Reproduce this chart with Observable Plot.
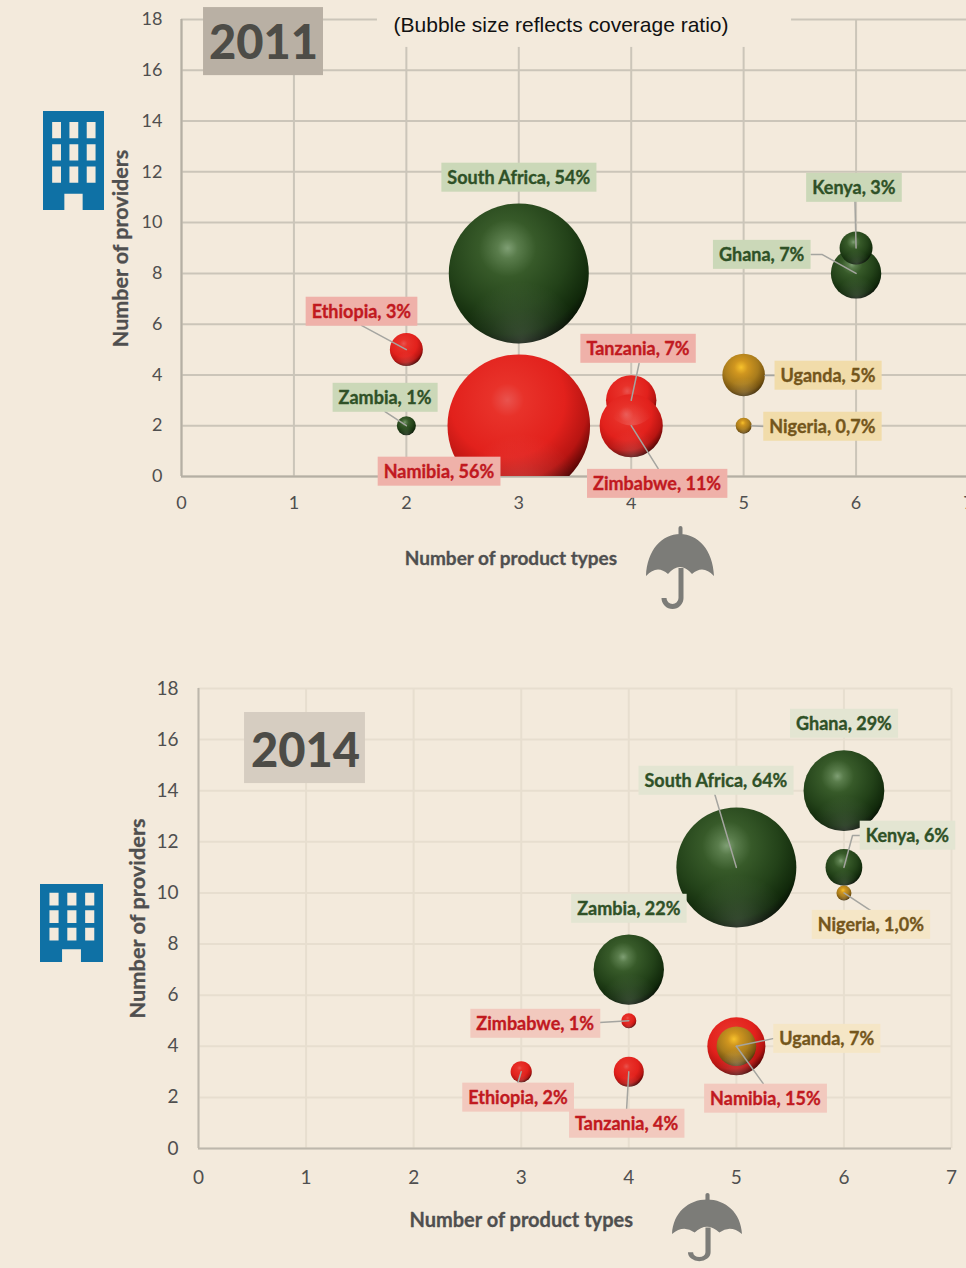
<!DOCTYPE html>
<html>
<head>
<meta charset="utf-8">
<script src="https://cdn.jsdelivr.net/npm/d3@7"></script>
<script src="https://cdn.jsdelivr.net/npm/@observablehq/plot@0.6"></script>
<style>
  html, body { margin: 0; padding: 0; background: #f3eadc; }
  body { position: relative; width: 966px; height: 1268px; overflow: hidden; font-family: Lato, sans-serif; }
  .layer { position: absolute; left: 0; }
  .icon { position: absolute; }
</style>
</head>
<body>
<svg width="0" height="0" style="position:absolute">
  <defs>
    <radialGradient id="sphere-green" cx="0.42" cy="0.32" r="0.73">
      <stop offset="0" stop-color="#7f9f74"/><stop offset="0.1" stop-color="#5a7d4c"/>
      <stop offset="0.28" stop-color="#375a29"/><stop offset="0.6" stop-color="#234219"/>
      <stop offset="0.84" stop-color="#11290b"/><stop offset="1" stop-color="#010401"/>
    </radialGradient>
    <radialGradient id="sphere-red" cx="0.42" cy="0.32" r="0.73">
      <stop offset="0" stop-color="#e9534e"/><stop offset="0.16" stop-color="#e8322a"/>
      <stop offset="0.55" stop-color="#e2211c"/><stop offset="0.78" stop-color="#b81512"/>
      <stop offset="0.92" stop-color="#5e0605"/><stop offset="1" stop-color="#1c0000"/>
    </radialGradient>
    <radialGradient id="sphere-gold" cx="0.44" cy="0.32" r="0.73">
      <stop offset="0" stop-color="#f7c22c"/><stop offset="0.22" stop-color="#d0961f"/>
      <stop offset="0.55" stop-color="#a97c1c"/><stop offset="0.8" stop-color="#775410"/>
      <stop offset="1" stop-color="#2a1c02"/>
    </radialGradient>
    <radialGradient id="sphere-rim" cx="0.52" cy="0.98" r="0.42">
      <stop offset="0" stop-color="#ffffff" stop-opacity="0.17"/>
      <stop offset="0.55" stop-color="#ffffff" stop-opacity="0.06"/>
      <stop offset="1" stop-color="#ffffff" stop-opacity="0"/>
    </radialGradient>
  </defs>
</svg>
<svg class="icon" style="left:43px;top:111px" width="61" height="99" viewBox="0 0 60 98" preserveAspectRatio="none"><path fill="#0f71a5" fill-rule="evenodd" d="M0 0H60V98H39V82H21V98H0ZM9 11v16h8.7V11ZM26 11v16h8.7V11ZM43 11v16h8.7V11ZM9 33v16h8.7V33ZM26 33v16h8.7V33ZM43 33v16h8.7V33ZM9 55v16h8.7V55ZM26 55v16h8.7V55ZM43 55v16h8.7V55Z"/></svg>
<svg class="icon" style="left:40px;top:884px" width="63" height="78" viewBox="0 0 60 98" preserveAspectRatio="none"><path fill="#0f71a5" fill-rule="evenodd" d="M0 0H60V98H39V82H21V98H0ZM9 11v16h8.7V11ZM26 11v16h8.7V11ZM43 11v16h8.7V11ZM9 33v16h8.7V33ZM26 33v16h8.7V33ZM43 33v16h8.7V33ZM9 55v16h8.7V55ZM26 55v16h8.7V55ZM43 55v16h8.7V55Z"/></svg>
<svg class="icon" style="left:646px;top:526px" width="68" height="84" viewBox="0 0 68 84"><g fill="#7c7c78"><rect x="32.500" y="0" width="4" height="10" rx="2"/><path d="M0 50C1 24 16 8 34 8C52 8 67 24 68 50Q57 38 46 48Q40 41 34 41Q28 41 22 48Q11 38 0 50Z"/></g><path d="M35 42V72a8.500 8.500 0 0 1 -17 0" fill="none" stroke="#7c7c78" stroke-width="5"/></svg>
<svg class="icon" style="left:672px;top:1193px" width="70" height="69" viewBox="0 0 68 84" preserveAspectRatio="none"><g fill="#7c7c78"><rect x="32.500" y="0" width="4" height="10" rx="2"/><path d="M0 50C1 24 16 8 34 8C52 8 67 24 68 50Q57 38 46 48Q40 41 34 41Q28 41 22 48Q11 38 0 50Z"/></g><path d="M35 42V72a8.500 8.500 0 0 1 -17 0" fill="none" stroke="#7c7c78" stroke-width="5"/></svg>
<script>
// ---- 2011 ----
const names2011  = ["South Africa","Namibia","Ethiopia","Zambia","Tanzania","Zimbabwe","Uganda","Nigeria","Ghana","Kenya"];
const types2011  = [3,3,2,2,4,4,5,5,6,6];
const provs2011  = [8,2,5,2,3,2,4,2,8,9];
const ratio2011  = [54,56,3,1,7,11,5,0.7,7,3];
const ratioText2011 = ["54%","56%","3%","1%","7%","11%","5%","0,7%","7%","3%"];
const group2011  = ["green","red","red","green","red","red","gold","gold","green","green"];
const labelX2011 = [3.00,2.29,1.60,1.81,4.06,4.23,5.75,5.70,5.16,5.98];
const labelY2011 = [11.78,0.20,6.50,3.11,5.04,-0.28,3.98,1.97,8.74,11.38];
const leaders2011 = [
  [[5.99,10.83],[6,9]],
  [[5.60,8.74],[5.70,8.74],[6,8]],
  [[1.60,5.95],[2,5]],
  [[4.07,4.45],[4,3]],
  [[5.30,3.98],[5.19,3.98]],
  [[5.19,1.97],[5.07,2]],
  [[1.81,2.56],[2,2]],
  [[4.24,0.31],[4,2]]
];
// ---- 2014 ----
const names2014  = ["Ghana","South Africa","Kenya","Nigeria","Zambia","Zimbabwe","Namibia","Uganda","Ethiopia","Tanzania"];
const types2014  = [6,5,6,6,4,4,5,5,3,4];
const provs2014  = [14,11,11,10,7,5,4,4,3,3];
const ratio2014  = [29,64,6,1,22,1,15,7,2,4];
const ratioText2014 = ["29%","64%","6%","1,0%","22%","1%","15%","7%","2%","4%"];
const group2014  = ["green","green","green","gold","green","red","red","gold","red","red"];
const labelX2014 = [6.00,4.81,6.59,6.25,4.00,3.13,5.27,5.84,2.97,3.98];
const labelY2014 = [16.63,14.40,12.25,8.76,9.39,4.89,1.96,4.30,2.00,0.98];
const leaders2014 = [
  [[4.80,13.85],[5,11]],
  [[6.16,12.25],[6.08,12.25],[6,11]],
  [[6.25,9.31],[6,10]],
  [[3.73,4.93],[4,5]],
  [[5.34,4.30],[5,4]],
  [[5.25,2.54],[5,4]],
  [[2.97,2.58],[3,3]],
  [[3.98,1.56],[4,3]]
];
const xTicks = [0,1,2,3,4,5,6,7];
const yTicks = [0,2,4,6,8,10,12,14,16,18];
const xTitle = "Number of product types";
const yTitle = "Number of providers";
const note = "(Bubble size reflects coverage ratio)";

const textColor = {green:"#2f5127", red:"#c1191f", gold:"#74561c"};

function rows(names, types, provs, ratio, ratioText, group, lx, ly) {
  return names.map((n,i)=>({name:n, x:types[i], y:provs[i], r:ratio[i], label:`${n}, ${ratioText[i]}`, group:group[i], lx:lx[i], ly:ly[i]}));
}

function chart(o) {
  const leaderPts = o.leaders.flatMap((p,k)=>p.map(([x,y])=>({x,y,k})));
  const marks = [
    Plot.ruleY(yTicks, {stroke:o.grid, strokeWidth:2}),
    Plot.ruleX(xTicks, {stroke:o.grid, strokeWidth:2}),
    Plot.ruleX([0], {stroke:o.axisLine, strokeWidth:2}),
    Plot.ruleY([0], {stroke:o.axisLine, strokeWidth:2}),
    Plot.axisX({ticks:xTicks, tickSize:0, tickPadding:o.xPad, tickFormat:"d", fontSize:o.tickFont, fill:"#4f4f4f", label:null}),
    Plot.axisY({ticks:yTicks, tickSize:0, tickPadding:o.yPad, tickFormat:"d", fontSize:o.tickFont, fill:"#4f4f4f", label:null}),
    ...(o.noteBox ? [Plot.rect([o.noteBox], {x1:"x1",x2:"x2",y1:"y1",y2:"y2",fill:"#f3eadc"})] : []),
    Plot.rect([o.titleBox], {x1:"x1",x2:"x2",y1:"y1",y2:"y2",fill:o.titleFill}),
    Plot.text([o.titleBox], {x:"tx",y:"ty",dy:2,text:"title",fontSize:47,fontWeight:900,fontFamily:"Lato",fill:"#4d4c47"}),
    ...(o.noteBox ? [Plot.text([o.noteBox], {x:"tx",y:"ty",text:"note",fontSize:21,fontFamily:"Liberation Sans",fill:"#111"})] : []),
    Plot.dot(o.data, {x:"x",y:"y",r:"r",fill:d=>`url(#sphere-${d.group})`,sort:null,clip:true}),
    Plot.dot(o.data, {x:"x",y:"y",r:"r",fill:()=>"url(#sphere-rim)",sort:null,clip:true}),
    Plot.line(leaderPts, {x:"x",y:"y",z:"k",stroke:"#a5a5a0",strokeWidth:1.5}),
    Plot.text(o.data, {x:"lx",y:"ly",dy:1,text:"label",fontSize:o.labelFont,fontWeight:700,fontFamily:"Lato",fill:d=>textColor[d.group],stroke:d=>textColor[d.group],strokeWidth:0.35}),
    Plot.text([o.xLabel], {x:"x",y:"y",text:"t",fontSize:o.xLabelFont,fontWeight:700,fontFamily:"Lato",fill:"#4f4f4f",stroke:"#4f4f4f",strokeWidth:0.3}),
    Plot.text([o.yLabel], {x:"x",y:"y",text:"t",rotate:-90,fontSize:o.yLabelFont,fontWeight:700,fontFamily:"Lato",fill:"#4f4f4f",stroke:"#4f4f4f",strokeWidth:0.3})
  ];
  const svg = Plot.plot({
    width:970, height:o.height,
    marginLeft:o.ml, marginRight:o.mr, marginTop:o.mt, marginBottom:o.mb,
    x:{domain:[0,7]}, y:{domain:[0,18]},
    r:{type:"sqrt", domain:[0,o.rRefValue], range:[0,o.rRefPx]},
    color:{type:"identity"},
    style:{background:"transparent", fontFamily:"Lato", overflow:"visible", maxWidth:"none"},
    marks
  });
  svg.setAttribute("class", (svg.getAttribute("class")||"")+" layer");
  svg.style.top = o.top+"px";
  svg.style.maxWidth = "none";
  svg.style.width = "970px";
  svg.style.height = o.height+"px";
  document.body.appendChild(svg);
  // backing chips behind the country labels, sized from the text that Plot drew
  const all = Array.from(svg.querySelectorAll("text"));
  o.data.forEach(d=>{
    const t = all.find(e=>e.textContent===d.label);
    if (!t) return;
    const b = t.getBBox();
    const r = document.createElementNS("http://www.w3.org/2000/svg","rect");
    r.setAttribute("x", b.x-o.chipPad); r.setAttribute("width", b.width+2*o.chipPad);
    r.setAttribute("y", b.y+b.height/2-14.5); r.setAttribute("height", 29);
    r.setAttribute("fill", o.chip[d.group]);
    r.setAttribute("stroke", "none");
    if (t.getAttribute("transform")) r.setAttribute("transform", t.getAttribute("transform"));
    t.parentNode.insertBefore(r, t);
  });
}

chart({
  top:0, height:640, ml:181, mr:2, mt:19, mb:164,
  data:rows(names2011,types2011,provs2011,ratio2011,ratioText2011,group2011,labelX2011,labelY2011),
  leaders:leaders2011, rRefValue:54, rRefPx:70,
  grid:"#cbc5b9", axisLine:"#b5afa4", titleFill:"#b9b0a4",
  titleBox:{x1:0.196,x2:1.263,y1:18.47,y2:15.79,tx:0.73,ty:17.13,title:"2011"},
  noteBox:{x1:1.743,x2:5.426,y1:18.55,y2:16.9,tx:3.376,ty:17.76,note},
  xLabel:{x:2.93,y:-3.23,t:xTitle}, yLabel:{x:-0.534,y:8.98,t:yTitle},
  xLabelFont:19, yLabelFont:21.5,
  tickFont:18, labelFont:18, xPad:20, yPad:19, chipPad:6,
  chip:{green:"#cbd8b8", red:"#efb1a9", gold:"#f1dcaa"}
});
chart({
  top:640, height:628, ml:198, mr:19, mt:48, mb:120,
  data:rows(names2014,types2014,provs2014,ratio2014,ratioText2014,group2014,labelX2014,labelY2014),
  leaders:leaders2014, rRefValue:64, rRefPx:60,
  grid:"#e7decf", axisLine:"#bdb7ac", titleFill:"#d6cdc1",
  titleBox:{x1:0.428,x2:1.552,y1:17.06,y2:14.28,tx:0.995,ty:15.61,title:"2014"},
  noteBox:null,
  xLabel:{x:3.0,y:-2.82,t:xTitle}, yLabel:{x:-0.558,y:9.0,t:yTitle},
  xLabelFont:20, yLabelFont:21.8,
  tickFont:19, labelFont:18, xPad:22, yPad:20, chipPad:6,
  chip:{green:"#e3e5d2", red:"#f2c9be", gold:"#f5e6c6"}
});
</script>
</body>
</html>
